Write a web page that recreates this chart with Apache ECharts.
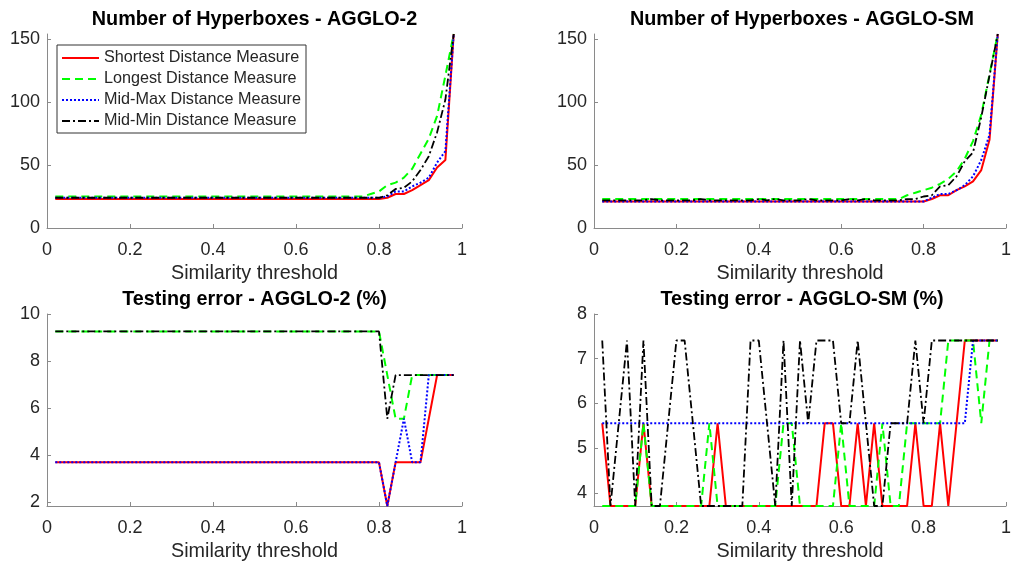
<!DOCTYPE html>
<html>
<head>
<meta charset="utf-8">
<script src="https://cdn.jsdelivr.net/npm/echarts@6/dist/echarts.min.js"></script>
<style>
  html, body { margin: 0; padding: 0; background: #fff; }
  #main { width: 1014px; height: 563px; }
</style>
</head>
<body>
<div id="main"></div>
<script>
// similarity threshold (x axis, all four panels)
var thresholds = [0.02,0.04,0.06,0.08,0.10,0.12,0.14,0.16,0.18,0.20,
                  0.22,0.24,0.26,0.28,0.30,0.32,0.34,0.36,0.38,0.40,
                  0.42,0.44,0.46,0.48,0.50,0.52,0.54,0.56,0.58,0.60,
                  0.62,0.64,0.66,0.68,0.70,0.72,0.74,0.76,0.78,0.80,
                  0.82,0.84,0.86,0.88,0.90,0.92,0.94,0.96,0.98];

var seriesNames = ['Shortest Distance Measure','Longest Distance Measure','Mid-Max Distance Measure','Mid-Min Distance Measure'];
var xTicks = [0, 0.2, 0.4, 0.6, 0.8, 1];
var hbTicks = [0, 50, 100, 150];
var err2Ticks = [2, 4, 6, 8, 10];
var errSmTicks = [4, 5, 6, 7, 8];

// Number of Hyperboxes - AGGLO-2
var hb2Shortest = [23,23,23,23,23,23,23,23,23,23, 23,23,23,23,23,23,23,23,23,23,
                   23,23,23,23,23,23,23,23,23,23, 23,23,23,23,23,23,23,23,23,23,
                   24,27,27,30,34,38,48,54,154];
var hb2Longest  = [25,25,25,25,25,25,25,25,25,25, 25,25,25,25,25,25,25,25,25,25,
                   25,25,25,25,25,25,25,25,25,25, 25,25,25,25,25,25,25,25,27,29,
                   34,36,40,47,59,71,89,121,154];
var hb2MidMax   = [24,24,24,24,24,24,24,24,24,24, 24,24,24,24,24,24,24,24,24,24,
                   24,24,24,24,24,24,24,24,24,24, 24,24,24,24,24,24,24,24,24,24,
                   25,29,29,33,36,40,52,61,154];
var hb2MidMin   = [24,24,24,24,24,24,24,24,24,24, 24,24,24,24,24,24,24,24,24,24,
                   24,24,24,24,24,24,24,24,24,24, 24,24,24,24,24,24,24,24,24,24,
                   26,31,32,37,46,57,76,102,154];

// Number of Hyperboxes - AGGLO-SM
var hbSmShortest = [21,21,21,21,21,21,21,21,21,21, 21,21,21,21,21,21,21,21,21,21,
                    21,21,21,21,21,21,21,21,21,21, 21,21,21,21,21,21,21,21,21,21,
                    23,26,26,30,33,37,46,70,154];
var hbSmLongest  = [23,23,23,23,23,23,23,23,23,23, 23,23,23,23,23,23,23,23,23,23,
                    23,23,23,23,23,23,23,23,23,23, 23,23,23,23,23,23,23,26,28,30,
                    32,35,39,45,55,69,90,122,154];
var hbSmMidMax   = [21,21,21,21,21,21,21,21,21,21, 21,21,21,21,21,21,21,21,21,21,
                    21,21,21,21,21,21,21,21,21,21, 21,21,21,21,21,21,21,21,21,21,
                    24,27,27,30,34,41,54,74,154];
var hbSmMidMin   = [22,22,22,22,22,22,23,22,22,22, 22,22,23,22,22,22,22,22,22,23,
                    22,23,22,22,22,23,22,22,22,22, 23,22,23,22,22,22,22,23,23,25,
                    26,33,34,41,53,60,88,121,154];

// Testing error - AGGLO-2 (%)
var err2Shortest = [3.704,3.704,3.704,3.704,3.704,3.704,3.704,3.704,3.704,3.704,
                    3.704,3.704,3.704,3.704,3.704,3.704,3.704,3.704,3.704,3.704,
                    3.704,3.704,3.704,3.704,3.704,3.704,3.704,3.704,3.704,3.704,
                    3.704,3.704,3.704,3.704,3.704,3.704,3.704,3.704,3.704,3.704,
                    1.852,3.704,3.704,3.704,3.704,5.556,7.407,7.407,7.407];
var err2Longest  = [9.259,9.259,9.259,9.259,9.259,9.259,9.259,9.259,9.259,9.259,
                    9.259,9.259,9.259,9.259,9.259,9.259,9.259,9.259,9.259,9.259,
                    9.259,9.259,9.259,9.259,9.259,9.259,9.259,9.259,9.259,9.259,
                    9.259,9.259,9.259,9.259,9.259,9.259,9.259,9.259,9.259,9.259,
                    7.407,5.556,5.556,7.407,7.407,7.407,7.407,7.407,7.407];
var err2MidMax   = [3.704,3.704,3.704,3.704,3.704,3.704,3.704,3.704,3.704,3.704,
                    3.704,3.704,3.704,3.704,3.704,3.704,3.704,3.704,3.704,3.704,
                    3.704,3.704,3.704,3.704,3.704,3.704,3.704,3.704,3.704,3.704,
                    3.704,3.704,3.704,3.704,3.704,3.704,3.704,3.704,3.704,3.704,
                    1.852,3.704,5.556,3.704,3.704,7.407,7.407,7.407,7.407];
var err2MidMin   = [9.259,9.259,9.259,9.259,9.259,9.259,9.259,9.259,9.259,9.259,
                    9.259,9.259,9.259,9.259,9.259,9.259,9.259,9.259,9.259,9.259,
                    9.259,9.259,9.259,9.259,9.259,9.259,9.259,9.259,9.259,9.259,
                    9.259,9.259,9.259,9.259,9.259,9.259,9.259,9.259,9.259,9.259,
                    5.556,7.407,7.407,7.407,7.407,7.407,7.407,7.407,7.407];

// Testing error - AGGLO-SM (%)
var errSmShortest = [5.556,3.704,3.704,3.704,3.704,5.556,3.704,3.704,3.704,3.704,
                     3.704,3.704,3.704,3.704,5.556,3.704,3.704,3.704,3.704,3.704,
                     3.704,3.704,3.704,3.704,3.704,3.704,3.704,5.556,5.556,3.704,
                     3.704,5.556,3.704,5.556,3.704,3.704,3.704,3.704,5.556,3.704,
                     3.704,5.556,3.704,5.556,7.407,7.407,7.407,7.407,7.407];
var errSmLongest  = [3.704,3.704,3.704,3.704,3.704,5.556,3.704,3.704,3.704,3.704,
                     3.704,3.704,3.704,5.556,3.704,3.704,3.704,3.704,3.704,3.704,
                     3.704,3.704,5.556,5.556,3.704,3.704,3.704,3.704,3.704,5.556,
                     3.704,3.704,3.704,3.704,5.556,3.704,3.704,5.556,5.556,5.556,
                     5.556,5.556,7.407,7.407,7.407,7.407,5.556,7.407,7.407];
var errSmMidMax   = [5.556,5.556,5.556,5.556,5.556,5.556,5.556,5.556,5.556,5.556,
                     5.556,5.556,5.556,5.556,5.556,5.556,5.556,5.556,5.556,5.556,
                     5.556,5.556,5.556,5.556,5.556,5.556,5.556,5.556,5.556,5.556,
                     5.556,5.556,5.556,5.556,5.556,5.556,5.556,5.556,5.556,5.556,
                     5.556,5.556,5.556,5.556,5.556,7.407,7.407,7.407,7.407];
var errSmMidMin   = [7.407,3.704,5.556,7.407,3.704,7.407,3.704,3.704,5.556,7.407,
                     7.407,5.556,3.704,3.704,3.704,3.704,3.704,3.704,7.407,7.407,
                     5.556,3.704,7.407,3.704,7.407,5.556,7.407,7.407,7.407,5.556,
                     5.556,7.407,5.556,3.704,3.704,5.556,5.556,5.556,7.407,5.556,
                     7.407,7.407,7.407,7.407,7.407,7.407,7.407,7.407,7.407];

var FONT = '"Liberation Sans", Arial, Helvetica, sans-serif';
var TXT = '#262626';
var AXIS = '#8a8a8a';

// matlab-like line styles: '-', '--', ':', '-.'
var lineStyles = [
  { color: '#ff0000', width: 2, type: 'solid' },
  { color: '#00ff00', width: 2, type: [8, 5] },
  { color: '#0000ff', width: 2, type: [2, 2] },
  { color: '#000000', width: 1.8, type: [8, 3, 2, 3] }
];

var panels = [
  { left: 47,  top: 34,  width: 415, min: 0,     max: 154, ticks: hbTicks,    title: 'Number of Hyperboxes - AGGLO-2',  data: [hb2Shortest, hb2Longest, hb2MidMax, hb2MidMin] },
  { left: 594, top: 34,  width: 416, min: 0,     max: 154, ticks: hbTicks,    title: 'Number of Hyperboxes - AGGLO-SM', data: [hbSmShortest, hbSmLongest, hbSmMidMax, hbSmMidMin] },
  { left: 47,  top: 314, width: 415, min: 1.852, max: 10,  ticks: err2Ticks,  title: 'Testing error - AGGLO-2 (%)',     data: [err2Shortest, err2Longest, err2MidMax, err2MidMin] },
  { left: 594, top: 314, width: 416, min: 3.704, max: 8,   ticks: errSmTicks, title: 'Testing error - AGGLO-SM (%)',    data: [errSmShortest, errSmLongest, errSmMidMax, errSmMidMin] }
];
var PLOT_H = 194;

var grids = [], xAxes = [], yAxes = [], series = [], texts = [];

panels.forEach(function (p, k) {
  grids.push({ left: p.left, top: p.top, width: p.width, height: PLOT_H });
  xAxes.push({
    gridIndex: k, type: 'value', min: 0, max: 1, interval: 0.2,
    name: 'Similarity threshold', nameLocation: 'middle', nameGap: 36,
    nameTextStyle: { fontFamily: FONT, fontSize: 19.8, color: TXT },
    axisLine: { show: true, onZero: false, lineStyle: { color: AXIS, width: 1 } },
    axisTick: { show: true, inside: true, length: 4, lineStyle: { color: AXIS } },
    axisLabel: {
      margin: 13, fontFamily: FONT, fontSize: 18, color: TXT,
      formatter: function (v) { return String(+v.toFixed(1)); }
    },
    splitLine: { show: false }
  });
  yAxes.push({
    gridIndex: k, type: 'value', min: p.min, max: p.max,
    axisLine: { show: true, onZero: false, lineStyle: { color: AXIS, width: 1 } },
    axisTick: { show: true, inside: true, length: 4, customValues: p.ticks, lineStyle: { color: AXIS } },
    axisLabel: { margin: 7, fontFamily: FONT, fontSize: 18, color: TXT, customValues: p.ticks },
    splitLine: { show: false }
  });
  p.data.forEach(function (vals, s) {
    series.push({
      name: seriesNames[s],
      type: 'line',
      xAxisIndex: k,
      yAxisIndex: k,
      symbol: 'none',
      clip: false,
      lineStyle: lineStyles[s],
      itemStyle: { color: lineStyles[s].color },
      data: thresholds.map(function (x, i) { return [x, vals[i]]; })
    });
  });
  texts.push({
    type: 'text',
    x: p.left + p.width / 2,
    y: p.top - 14,
    style: {
      text: p.title, fontFamily: FONT, fontSize: 19.8, fontWeight: 'bold',
      fill: '#000', align: 'center', verticalAlign: 'middle'
    }
  });
});

var chart = echarts.init(document.getElementById('main'), null, { renderer: 'canvas' });
chart.setOption({
  animation: false,
  backgroundColor: '#fff',
  grid: grids,
  xAxis: xAxes,
  yAxis: yAxes,
  legend: {
    data: seriesNames,
    orient: 'vertical',
    left: 57,
    top: 45,
    itemWidth: 37,
    itemHeight: 14,
    itemGap: 5,
    padding: [5, 5, 4, 4],
    backgroundColor: '#fff',
    borderColor: '#333',
    borderWidth: 1,
    borderRadius: 0,
    selectedMode: false,
    // hide the marker dot that line series add to the legend icon
    itemStyle: { color: 'rgba(0,0,0,0)', borderColor: 'rgba(0,0,0,0)', borderWidth: 0 },
    textStyle: { fontFamily: FONT, fontSize: 16.2, color: TXT, lineHeight: 16 }
  },
  graphic: texts,
  series: series
});
</script>
</body>
</html>
